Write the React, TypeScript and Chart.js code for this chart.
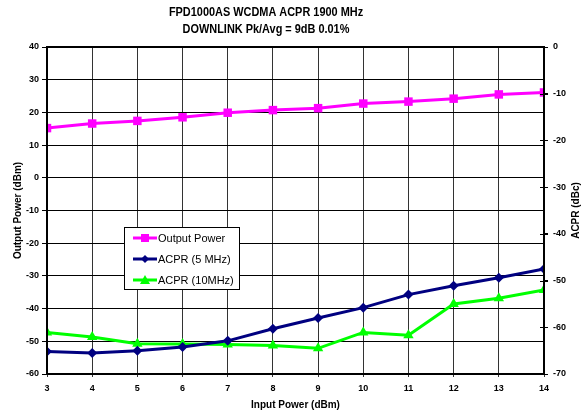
import React, { useEffect, useRef } from "react";
import { Chart, registerables } from "chart.js";

Chart.register(...registerables);

const inputPower = [3, 4, 5, 6, 7, 8, 9, 10, 11, 12, 13, 14];
const outputPower = [15.2, 16.6, 17.4, 18.5, 19.9, 20.7, 21.3, 22.7, 23.3, 24.2, 25.5, 26.1];
const acpr5 = [-65.2, -65.5, -65.0, -64.2, -62.9, -60.3, -58.0, -55.8, -53.0, -51.1, -49.4, -47.5];
const acpr10 = [-61.1, -62.1, -63.5, -63.6, -63.7, -63.9, -64.5, -61.1, -61.7, -55.0, -53.8, -52.0];
const titleLines = ["FPD1000AS WCDMA ACPR 1900 MHz", "DOWNLINK Pk/Avg = 9dB 0.01%"];
const xTitle = "Input Power (dBm)";
const yLeftTitle = "Output Power (dBm)";
const yRightTitle = "ACPR (dBc)";
const seriesNames = ["Output Power", "ACPR (5 MHz)", "ACPR (10MHz)"];

const FONT = "'Liberation Sans', Arial, sans-serif";

const decorPlugin = {
  id: "decor",
  afterDatasetsDraw(chart: any) {
    const ctx = chart.ctx;
    const a = chart.chartArea;
    ctx.save();
    // plot border
    ctx.strokeStyle = "#000";
    ctx.lineWidth = 2;
    ctx.strokeRect(a.left, a.top, a.right - a.left, a.bottom - a.top);
    // right axis crossing ticks
    const ry = chart.scales.y1;
    ctx.lineWidth = 1;
    for (let v = -70; v <= 0; v += 10) {
      const y = Math.round(ry.getPixelForValue(v)) + 0.5;
      ctx.beginPath();
      ctx.moveTo(a.right - 4, y);
      ctx.lineTo(a.right + 4, y);
      ctx.stroke();
    }
    // titles
    ctx.fillStyle = "#000";
    ctx.textAlign = "center";
    ctx.textBaseline = "middle";
    ctx.font = `bold 12px ${FONT}`;
    ctx.save();
    ctx.translate(266, 0);
    ctx.scale(0.91, 1);
    ctx.fillText(titleLines[0], 0, 13);
    ctx.fillText(titleLines[1], 0, 30);
    ctx.restore();
    ctx.font = `bold 10px ${FONT}`;
    ctx.fillText(xTitle, (a.left + a.right) / 2, 405);
    ctx.save();
    ctx.translate(18, (a.top + a.bottom) / 2);
    ctx.rotate(-Math.PI / 2);
    ctx.fillText(yLeftTitle, 0, 0);
    ctx.restore();
    ctx.save();
    ctx.translate(576, (a.top + a.bottom) / 2);
    ctx.rotate(-Math.PI / 2);
    ctx.fillText(yRightTitle, 0, 0);
    ctx.restore();
    // legend
    const lx = 124, ly = 227, lw = 115, lh = 62;
    ctx.fillStyle = "#fff";
    ctx.fillRect(lx, ly, lw, lh);
    ctx.strokeStyle = "#000";
    ctx.lineWidth = 1;
    ctx.strokeRect(lx + 0.5, ly + 0.5, lw, lh);
    chart.data.datasets.forEach((ds: any, i: number) => {
      const y = ly + 11 + i * 21;
      ctx.strokeStyle = ds.borderColor;
      ctx.lineWidth = 3;
      ctx.beginPath();
      ctx.moveTo(lx + 9, y);
      ctx.lineTo(lx + 33, y);
      ctx.stroke();
      ctx.fillStyle = ds.backgroundColor;
      const cx = lx + 21;
      ctx.beginPath();
      if (ds.pointStyle === "rect") {
        ctx.rect(cx - 4, y - 4, 8, 8);
      } else if (ds.pointStyle === "rectRot") {
        ctx.moveTo(cx, y - 4);
        ctx.lineTo(cx + 4, y);
        ctx.lineTo(cx, y + 4);
        ctx.lineTo(cx - 4, y);
        ctx.closePath();
      } else {
        ctx.moveTo(cx, y - 5);
        ctx.lineTo(cx + 5, y + 4);
        ctx.lineTo(cx - 5, y + 4);
        ctx.closePath();
      }
      ctx.fill();
      ctx.fillStyle = "#000";
      ctx.font = `11px ${FONT}`;
      ctx.textAlign = "left";
      ctx.fillText(seriesNames[i], lx + 34, y + 1);
    });
    ctx.restore();
  },
};

export default function App() {
  const ref = useRef<HTMLCanvasElement>(null);
  useEffect(() => {
    document.body.style.margin = "0";
    const mk = (arr: number[]) => inputPower.map((x, i) => ({ x, y: arr[i] }));
    const chart = new Chart(ref.current!, {
      type: "line",
      data: {
        datasets: [
          {
            label: seriesNames[0],
            data: mk(outputPower),
            yAxisID: "y",
            borderColor: "#FF00FF",
            backgroundColor: "#FF00FF",
            borderWidth: 3,
            pointStyle: "rect",
            pointRadius: 6,
            pointBorderWidth: 0,
          },
          {
            label: seriesNames[1],
            data: mk(acpr5),
            yAxisID: "y1",
            borderColor: "#000080",
            backgroundColor: "#000080",
            borderWidth: 3,
            pointStyle: "rectRot",
            pointRadius: 5,
            pointBorderWidth: 0,
          },
          {
            label: seriesNames[2],
            data: mk(acpr10),
            yAxisID: "y1",
            borderColor: "#00FF00",
            backgroundColor: "#00FF00",
            borderWidth: 3,
            pointStyle: "triangle",
            pointRadius: 6,
            pointBorderWidth: 0,
          },
        ],
      },
      options: {
        animation: false,
        responsive: false,
        layout: { padding: { top: 47, left: 0, right: 0, bottom: 0 } },
        plugins: { legend: { display: false }, tooltip: { enabled: false }, title: { display: false } },
        scales: {
          x: {
            type: "linear",
            min: 3,
            max: 14,
            ticks: { stepSize: 1, color: "#000", font: { family: FONT, size: 9, weight: "bold" }, padding: 6 },
            grid: { color: "#333", lineWidth: 1, tickLength: 3 },
            border: { display: false },
            afterFit: (s: any) => { s.height = 43; },
          },
          y: {
            position: "left",
            min: -60,
            max: 40,
            ticks: { stepSize: 10, color: "#000", font: { family: FONT, size: 9, weight: "bold" }, padding: 3 },
            grid: { color: "#000", lineWidth: 1, tickLength: 5 },
            border: { display: false },
            afterFit: (s: any) => { s.width = 47; },
          },
          y1: {
            position: "right",
            min: -70,
            max: 0,
            ticks: { stepSize: 10, color: "#000", font: { family: FONT, size: 9, weight: "bold" }, padding: 5 },
            grid: { drawOnChartArea: false, drawTicks: true, tickLength: 4, color: "#000" },
            border: { display: false },
            afterFit: (s: any) => { s.width = 44; },
          },
        },
      },
      plugins: [decorPlugin],
    });
    return () => chart.destroy();
  }, []);
  return (
    <div style={{ width: 588, height: 417, background: "#fff" }}>
      <canvas ref={ref} width={588} height={417} />
    </div>
  );
}
